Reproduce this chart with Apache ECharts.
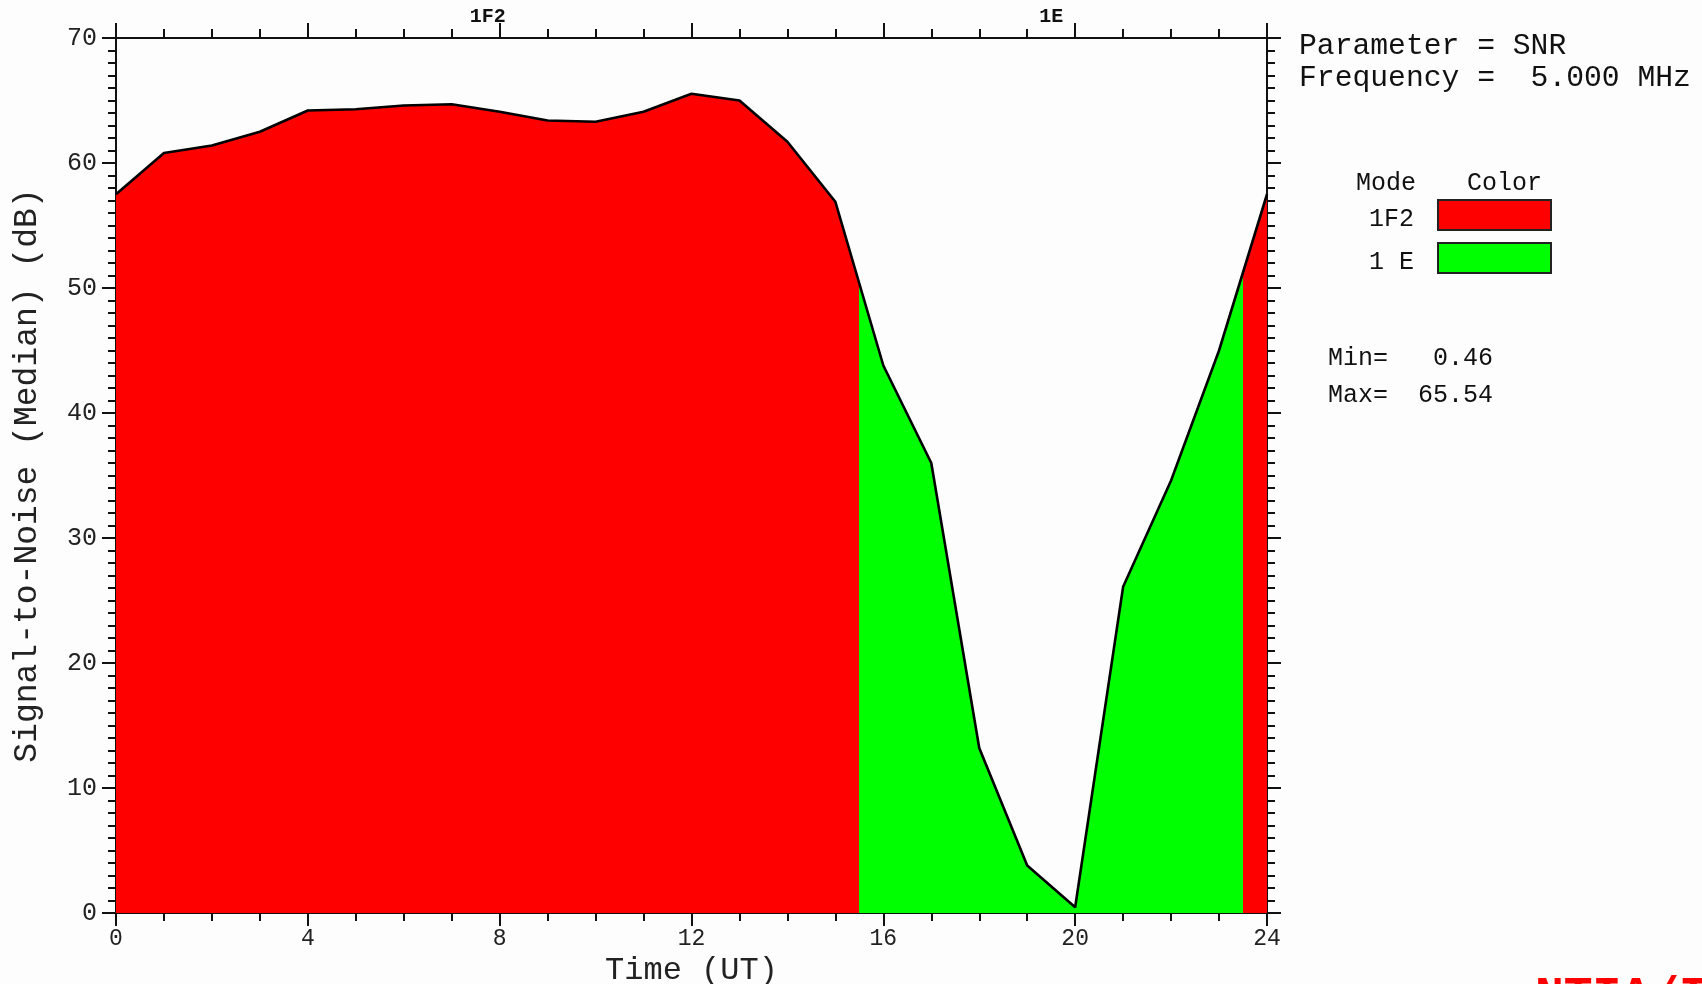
<!DOCTYPE html>
<html>
<head>
<meta charset="utf-8">
<script src="https://cdn.jsdelivr.net/npm/echarts@6/dist/echarts.min.js"></script>
<style>
html,body{margin:0;padding:0;background:#fdfdfd;}
#chart{width:1702px;height:984px;}
</style>
</head>
<body>
<div id="chart"></div>
<script>
// ---- data ----
const hours = [0,1,2,3,4,5,6,7,8,9,10,11,12,13,14,15,16,17,18,19,20,21,22,23,24];
const snr = [57.5,60.8,61.4,62.5,64.2,64.3,64.6,64.7,64.1,63.4,63.3,64.1,65.54,65.0,61.7,56.9,43.8,36.0,13.2,3.8,0.46,26.1,34.6,45.0,57.5];
const xTickLabels = ['0','4','8','12','16','20','24'];
const yTickLabels = ['0','10','20','30','40','50','60','70'];
const modeNames = ['1F2','1 E'];
const modeColors = ['#ff0000','#00ff00'];
const modeStart = [0, 15.5, 23.5];
const modeEnd = [15.5, 23.5, 24];
const modeOf = [0, 1, 0];
const modeTopLabels = ['1F2', '1E', ''];
const parameterName = 'SNR';
const frequencyMHz = 5.0;

const FONT = 'Liberation Mono';
const chart = echarts.init(document.getElementById('chart'));

const seriesData = hours.map((h, i) => [h, snr[i]]);
const pieces = modeStart.map((s, i) => {
  const p = { gte: s, color: modeColors[modeOf[i]] };
  if (i === modeStart.length - 1) p.lte = modeEnd[i]; else p.lt = modeEnd[i];
  return p;
});
const markAreaData = [];
modeStart.forEach((s, i) => {
  if (modeTopLabels[i]) {
    markAreaData.push([{ xAxis: s, name: modeTopLabels[i] }, { xAxis: modeEnd[i] }]);
  }
});

const minV = Math.min(...snr), maxV = Math.max(...snr);

const xBase = {
  type: 'value', min: 0, max: 24, interval: 4,
  axisLine: { show: true, onZero: false, lineStyle: { color: '#111', width: 2 } },
  axisTick: { show: true, length: 13, lineStyle: { color: '#111', width: 2 } },
  minorTick: { show: true, splitNumber: 4, length: 8, lineStyle: { color: '#111', width: 2 } },
  splitLine: { show: false }, minorSplitLine: { show: false }
};
const yBase = {
  type: 'value', min: 0, max: 70, interval: 10,
  axisLine: { show: true, onZero: false, lineStyle: { color: '#111', width: 2 } },
  axisTick: { show: true, length: 14, lineStyle: { color: '#111', width: 2 } },
  minorTick: { show: true, splitNumber: 10, length: 8, lineStyle: { color: '#111', width: 2 } },
  splitLine: { show: false }, minorSplitLine: { show: false }
};

const txt = (x, y, text, size, align, extra) => Object.assign({
  type: 'text', x: x, y: y, silent: true,
  style: { text: text, font: size + 'px "' + FONT + '"', fill: '#111', align: align || 'left', verticalAlign: 'middle' }
}, extra || {});

chart.setOption({
  backgroundColor: '#fdfdfd',
  animation: false,
  grid: { left: 116, right: 435, top: 38, bottom: 71, containLabel: false, outerBoundsMode: 'none' },
  xAxis: [
    Object.assign({}, xBase, {
      position: 'bottom',
      name: 'Time (UT)', nameLocation: 'middle', nameGap: 36,
      nameTextStyle: { fontFamily: FONT, fontSize: 32, color: '#222' },
      axisLabel: { show: true, margin: 14, fontFamily: FONT, fontSize: 23, color: '#222',
        formatter: v => xTickLabels[xTickLabels.indexOf(String(v))] || '' }
    }),
    Object.assign({}, xBase, {
      position: 'top', axisLabel: { show: false },
      axisTick: { show: true, length: 15, lineStyle: { color: '#111', width: 2 } },
      minorTick: { show: true, splitNumber: 4, length: 9, lineStyle: { color: '#111', width: 2 } }
    })
  ],
  yAxis: [
    Object.assign({}, yBase, {
      position: 'left',
      name: 'Signal-to-Noise (Median) (dB)', nameLocation: 'middle', nameGap: 72, nameRotate: 90,
      nameTextStyle: { fontFamily: FONT, fontSize: 33, color: '#222' },
      axisLabel: { show: true, margin: 19, fontFamily: FONT, fontSize: 25, color: '#222',
        formatter: v => yTickLabels[yTickLabels.indexOf(String(v))] || '' }
    }),
    Object.assign({}, yBase, { position: 'right', axisLabel: { show: false } })
  ],
  visualMap: {
    type: 'piecewise', show: false, dimension: 0, seriesIndex: 0, pieces: pieces
  },
  series: [{
    type: 'line', xAxisIndex: 0, yAxisIndex: 0,
    data: seriesData, showSymbol: false, symbol: 'none',
    lineStyle: { color: '#000', width: 2.6 },
    areaStyle: { opacity: 1 },
    z: 1,
    markArea: {
      silent: true,
      itemStyle: { color: 'rgba(0,0,0,0)' },
      label: { show: true, position: 'top', distance: 11, fontFamily: FONT, fontWeight: 'bold', fontSize: 20, color: '#111' },
      data: markAreaData
    }
  }],
  graphic: [
    txt(1299, 46, 'Parameter = ' + parameterName, 29.7),
    txt(1299, 78, 'Frequency =  ' + frequencyMHz.toFixed(3) + ' MHz', 29.7),
    txt(1356, 183, 'Mode', 25),
    txt(1467, 183, 'Color', 25),
    txt(1414, 219, modeNames[0], 25, 'right'),
    txt(1414, 262, modeNames[1], 25, 'right'),
    { type: 'rect', shape: { x: 1438, y: 200, width: 113, height: 30 }, style: { fill: modeColors[0], stroke: '#222', lineWidth: 2 } },
    { type: 'rect', shape: { x: 1438, y: 243, width: 113, height: 30 }, style: { fill: modeColors[1], stroke: '#222', lineWidth: 2 } },
    txt(1328, 358, 'Min=' + minV.toFixed(2).padStart(7, ' '), 25),
    txt(1328, 395, 'Max=' + maxV.toFixed(2).padStart(7, ' '), 25),
    { type: 'text', x: 1535, y: 974, silent: true,
      style: { text: 'NTIA/ITS', font: 'bold 48px "' + FONT + '"', fill: '#ff0000', align: 'left', verticalAlign: 'top' } }
  ]
});
</script>
</body>
</html>
